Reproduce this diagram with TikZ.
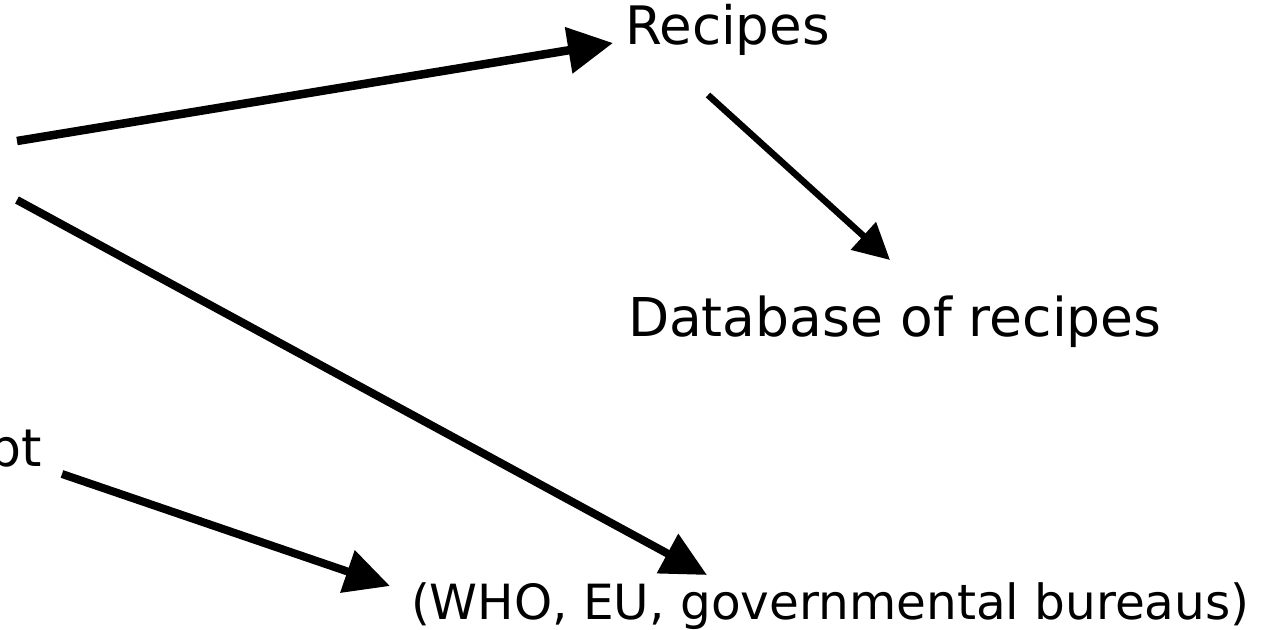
\documentclass[tikz,border=0pt]{standalone}
\usepackage{fontspec}
\setmainfont{DejaVu Sans}
\usetikzlibrary{arrows.meta}
\begin{document}
\begin{tikzpicture}[x=1bp,y=-1bp,
  lbl/.style={inner sep=0pt, outer sep=0pt, text=black},
  bigarrow/.style={line width=8.5bp, -{Triangle[length=45bp,width=45bp]}},
  midarrow/.style={line width=8bp, -{Triangle[length=45bp,width=43bp]}},
  smallarrow/.style={line width=6.5bp, -{Triangle[length=36bp,width=36bp]}}]
\useasboundingbox (0,0) rectangle (1276,630);
\node[lbl, anchor=base west, font=\fontsize{53bp}{60bp}\selectfont] (recipes) at (625,45) {Recipes};
\node[lbl, anchor=base west, font=\fontsize{53.5bp}{60bp}\selectfont] (db) at (628,337) {Database of recipes};
\node[lbl, anchor=base west, font=\fontsize{48.5bp}{56bp}\selectfont] (who) at (411,619) {(WHO, EU, governmental bureaus)};
\node[lbl, anchor=base east, font=\fontsize{52bp}{60bp}\selectfont] (pt) at (42,466) {pt};
\coordinate (s1) at (17,141);
\coordinate (t1) at (613,43);
\coordinate (s2) at (708,95);
\coordinate (t2) at (890,260);
\coordinate (s3) at (17,200);
\coordinate (t3) at (707,575);
\coordinate (s4) at (62,474);
\coordinate (t4) at (390,586);
\draw[bigarrow] (s1) -- (t1);
\draw[smallarrow] (s2) -- (t2);
\draw[midarrow] (s3) -- (t3);
\draw[midarrow] (s4) -- (t4);
\end{tikzpicture}
\end{document}
